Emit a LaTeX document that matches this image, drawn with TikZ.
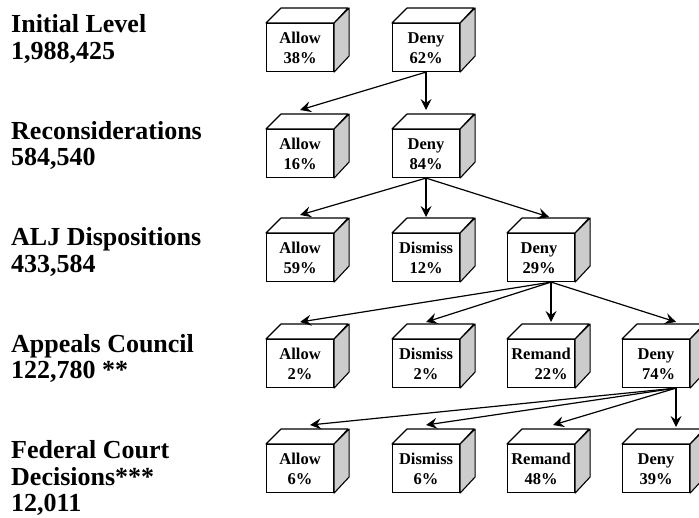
\documentclass[tikz,border=0pt]{standalone}
\usepackage{fontspec}
\setmainfont{Liberation Serif}
\usetikzlibrary{arrows.meta}
\definecolor{sidegray}{RGB}{204,204,204}
\tikzset{
  front/.style={draw, line width=1.1pt, fill=white, minimum width=67pt, minimum height=48pt,
    inner sep=0pt, anchor=north west, align=center,
    font=\bfseries\fontsize{16.5}{20}\selectfont},
  face/.style={draw, line width=1.1pt, line join=round},
  arr/.style={line width=1.2pt, -{Stealth[length=11pt,width=11pt,inset=4pt]}},
  lbl/.style={anchor=north west, inner sep=0pt, align=left,
    font=\bfseries\fontsize{26}{26.5}\selectfont},
}
\newcommand\tx[2]{\rule{0pt}{15pt}#1\\#2\rule[-3pt]{0pt}{3pt}}
\newcommand\cube[4]{%
  \node[front] (#1) at (#2,#3) {#4};
  \draw[face, fill=white] (#1.north west) -- ++(15,-15) -- ++(67,0) -- (#1.north east) -- cycle;
  \draw[face, fill=sidegray] (#1.north east) -- ++(15,-15) -- ++(0,48) -- (#1.south east) -- cycle;
}
\begin{document}
\begin{tikzpicture}[x=1pt,y=-1pt]
\useasboundingbox (0,0) rectangle (699,518);
% level labels
\node[lbl] (l1) at (11,14.7) {\rule{0pt}{18pt}Initial Level\\1,988,425};
\node[lbl] (l2) at (11,121.2) {\rule{0pt}{18pt}Reconsiderations\\584,540};
\node[lbl] (l3) at (11,227.7) {\rule{0pt}{18pt}ALJ Dispositions\\433,584};
\node[lbl] (l4) at (11,334.2) {\rule{0pt}{18pt}Appeals Council\\122,780 **};
\node[lbl] (l5) at (11,440.7) {\rule{0pt}{18pt}Federal Court\\Decisions***\\12,011};
% row 1
\cube{allow1}{266}{23}{\tx{Allow}{38\%}}
\cube{deny1}{392}{23}{\tx{Deny}{62\%}}
% row 2
\cube{allow2}{266}{129}{\tx{Allow}{16\%}}
\cube{deny2}{392}{129}{\tx{Deny}{84\%}}
% row 3
\cube{allow3}{266}{233}{\tx{Allow}{59\%}}
\cube{dismiss3}{392}{233}{\tx{Dismiss}{12\%}}
\cube{deny3}{507}{233}{\tx{Deny\hspace*{4pt}}{29\%\hspace*{4pt}}}
% row 4
\cube{allow4}{266}{339}{\tx{Allow}{2\%}}
\cube{dismiss4}{392}{339}{\tx{Dismiss}{2\%}}
\cube{remand4}{507}{339}{\tx{Remand}{\hspace*{20pt}22\%}}
\cube{deny4}{622}{339}{\tx{Deny}{\hspace*{5pt}74\%}}
% row 5
\cube{allow5}{266}{444}{\tx{Allow}{6\%}}
\cube{dismiss5}{392}{444}{\tx{Dismiss}{6\%}}
\cube{remand5}{507}{444}{\tx{Remand}{48\%}}
\cube{deny5}{622}{444}{\tx{Deny}{39\%}}
% connectors
\draw[arr] (deny1.south) -- ([yshift=19pt]allow2.north);
\draw[arr] (deny1.south) -- ([yshift=19pt]deny2.north);
\draw[arr] (deny2.south) -- ([yshift=18pt]allow3.north);
\draw[arr] (deny2.south) -- ([yshift=16pt]dismiss3.north);
\draw[arr] (deny2.south) -- ([xshift=8pt,yshift=16pt]deny3.north);
\draw[arr] ([xshift=10pt]deny3.south) -- ([yshift=17pt]allow4.north);
\draw[arr] ([xshift=10pt]deny3.south) -- ([yshift=17pt]dismiss4.north);
\draw[arr] ([xshift=10pt]deny3.south) -- ([xshift=10pt,yshift=17pt]remand4.north);
\draw[arr] ([xshift=10pt]deny3.south) -- ([xshift=20pt,yshift=17pt]deny4.north);
\draw[arr] ([xshift=20pt]deny4.south) -- ([xshift=10pt,yshift=19pt]allow5.north);
\draw[arr] ([xshift=20pt]deny4.south) -- ([yshift=19pt]dismiss5.north);
\draw[arr] ([xshift=20pt]deny4.south) -- ([xshift=12pt,yshift=19pt]remand5.north);
\draw[arr] ([xshift=20pt]deny4.south) -- ([xshift=20pt,yshift=17pt]deny5.north);
\end{tikzpicture}
\end{document}
